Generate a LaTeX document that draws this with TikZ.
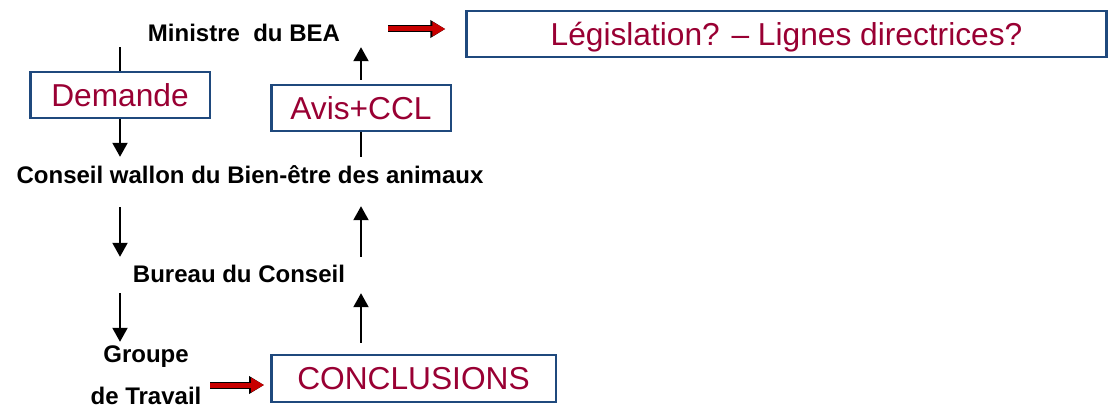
\documentclass[tikz,border=0pt]{standalone}
\usepackage{fontspec}
\setmainfont{Liberation Sans}
\usepackage{tikz}
\usetikzlibrary{arrows.meta}
\definecolor{boxblue}{RGB}{31,73,125}
\definecolor{txtred}{RGB}{153,0,51}
\definecolor{arrowred}{RGB}{200,0,0}

\begin{document}
\begin{tikzpicture}[x=1pt,y=-1pt,
 lbl/.style={font=\fontsize{24}{28}\selectfont\bfseries, text height=17pt, text depth=0pt, inner sep=5pt, anchor=base},
 box/.style={draw=boxblue, line width=2.5pt, text=txtred, font=\fontsize{31.7}{36}\selectfont, text height=22.7pt, text depth=0pt, inner sep=0pt, minimum height=46pt},
 arr/.style={line width=2pt, -{Triangle[length=14pt,width=15pt]}},
 redarr/.style={line width=5pt, arrowred, -{Triangle[length=13pt,width=14pt]},
   preaction={draw=black, line width=7pt, -{Triangle[length=15pt,width=17pt]}}}]
\useasboundingbox (0,0) rectangle (1113,409);

\node[lbl] (min) at (244,42) {Ministre\ \ du BEA};
\node[lbl] (cons) at (250,183) {Conseil wallon du Bien-être des animaux};
\node[lbl] (bur) at (239,282) {Bureau du Conseil};
\node[lbl] (grp) at (146,362) {Groupe};
\node[lbl] (trav) at (146,404) {de Travail};

\node[box, minimum width=640pt] (leg) at (786.5,34) {Législation? – Lignes directrices?};
\node[box, minimum width=179.5pt] (dem) at (120,95) {Demande};
\node[box, minimum width=179.5pt] (avis) at (361,108) {Avis+CCL};
\node[box, minimum width=284.5pt, minimum height=47pt] (concl) at (413.5,378.5) {CONCLUSIONS};

% left column, going down
\draw[line width=2pt] (dem.north |- min.south) -- (dem.north);
\draw[arr, shorten >=4pt] (dem.south) -- (dem.south |- cons.north);
\draw[arr, shorten <=19pt, shorten >=3pt] (dem.south |- cons.south) -- (dem.south |- bur.north);
\draw[arr, shorten <=6pt, shorten >=-2pt] (dem.south |- bur.south) -- (dem.south |- grp.north);

% right column, going up
\draw[arr, shorten <=11pt, shorten >=6pt] (avis.south |- concl.north) -- (avis.south |- bur.south);
\draw[arr, shorten <=3pt, shorten >=18pt] (avis.south |- bur.north) -- (avis.south |- cons.south);
\draw[line width=2pt, shorten <=4pt] (avis.south |- cons.north) -- (avis.south);
\draw[arr, shorten <=4pt] (avis.north) -- (avis.north |- min.south);

% red arrows
\coordinate (ra1) at (388,29);
\draw[redarr, shorten >=20pt] (ra1) -- (ra1 -| leg.west);
\coordinate (ra2) at (210,385);
\draw[redarr, shorten >=6pt] (ra2) -- (ra2 -| concl.west);
\end{tikzpicture}
\end{document}
